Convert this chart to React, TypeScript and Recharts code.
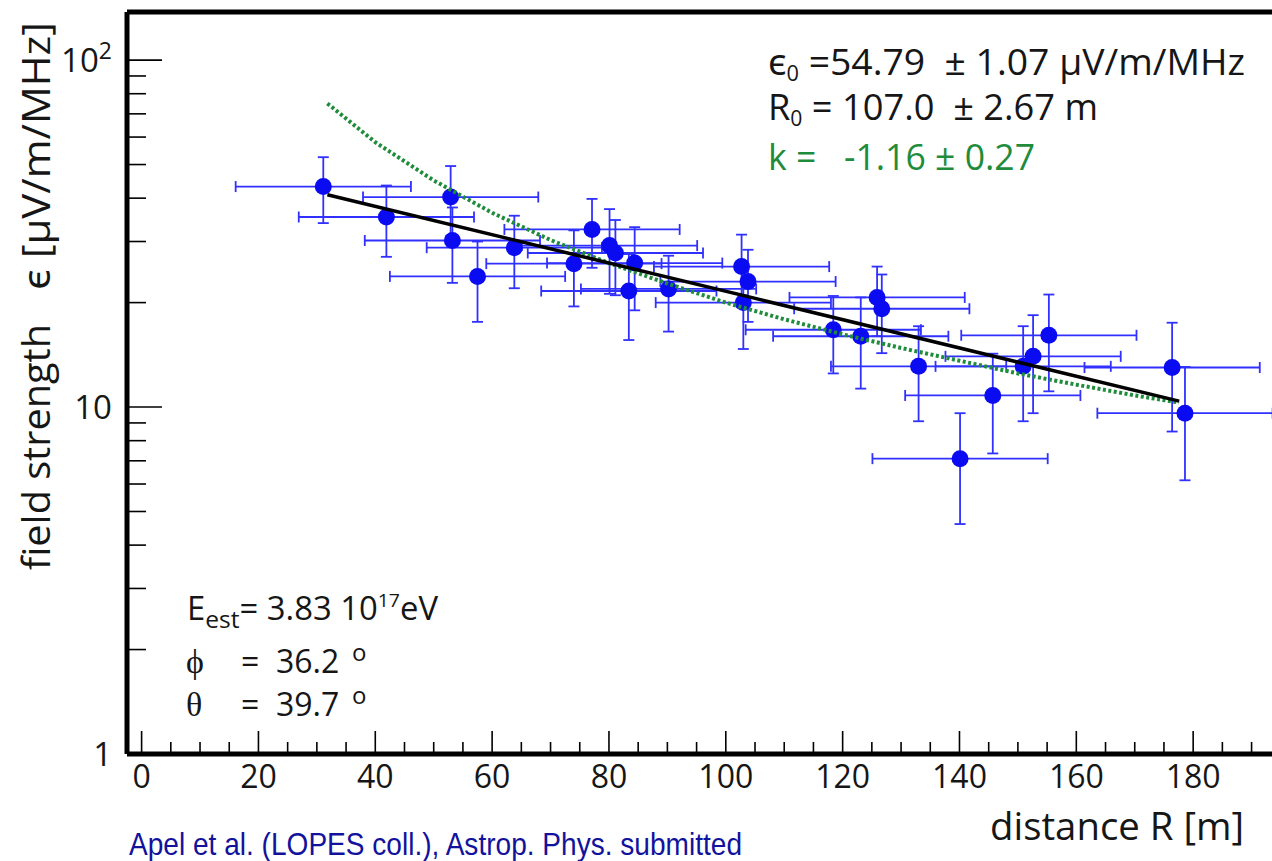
import { ScatterChart, Scatter, XAxis, YAxis, ErrorBar, ReferenceLine } from "recharts";

// measured points: distance R [m], field strength [µV/m/MHz] and their errors
const distance = [
  31.1, 41.9, 52.9, 53.2, 57.5, 63.8, 74.0, 77.1, 80.1, 81.1, 83.4, 84.4, 90.2,
  102.7, 103.8, 103.0, 118.4, 123.1, 125.9, 126.7, 133.0, 140.1, 145.7, 150.9,
  152.6, 155.3, 176.4, 178.6,
];
const fieldStrength = [
  43.2, 35.3, 40.3, 30.2, 23.8, 28.8, 25.9, 32.5, 29.2, 27.8, 21.6, 26.0, 21.9,
  25.4, 23.0, 20.0, 16.7, 16.0, 20.7, 19.2, 13.1, 7.1, 10.8, 13.1, 14.0, 16.1,
  13.0, 9.6,
];
const distanceErr = [
  15, 15, 15, 15, 15, 15, 15, 15, 15, 15, 15, 15, 15, 15, 15, 15, 15, 15, 15,
  15, 15, 15, 15, 15, 15, 15, 15, 15,
];
const fieldErr = [
  9.3, 8.2, 9.2, 7.4, 6.2, 6.8, 6.4, 7.3, 8.0, 6.8, 6.0, 7.0, 5.4, 6.0, 5.4,
  5.3, 4.2, 4.7, 4.7, 4.9, 4.0, 2.5, 3.45, 4.0, 4.4, 5.0, 4.5, 3.45,
];

// exponential fit (straight on the log axis) read at both ends
const expFitDistance = [31.8, 177.6];
const expFitField = [40.9, 10.4];

// power-law fit (green dotted)
const powFitDistance = [31.8, 40, 50, 60, 70, 80, 90, 100, 110, 120, 130, 140, 150, 160, 170, 177.6];
const powFitField = [75, 58, 45, 36.3, 30.3, 26.0, 22.7, 20.0, 17.9, 16.2, 14.8, 13.6, 12.5, 11.6, 10.8, 10.3];

const xTicks = [
  0, 5, 10, 15, 20, 25, 30, 35, 40, 45, 50, 55, 60, 65, 70, 75, 80, 85, 90, 95,
  100, 105, 110, 115, 120, 125, 130, 135, 140, 145, 150, 155, 160, 165, 170,
  175, 180, 185, 190, 195,
];
const yTicks = [1, 2, 3, 4, 5, 6, 7, 8, 9, 10, 20, 30, 40, 50, 60, 70, 80, 90, 100];

const X_DOMAIN: [number, number] = [-2.5, 200];
const Y_DOMAIN: [number, number] = [1, 137.6];

const points = distance.map((r, i) => ({
  r,
  e: fieldStrength[i],
  dr: distanceErr[i],
  de: fieldErr[i],
}));
const expFit = expFitDistance.map((r, i) => ({ r, e: expFitField[i] }));
const powFit = powFitDistance.map((r, i) => ({ r, e: powFitField[i] }));

const SANS = "'Open Sans', 'Noto Sans', sans-serif";
const SERIF = "'Liberation Serif', 'DejaVu Serif', serif";
const INK = "#161616";
const BLUE = "#0b0bf2";
const BAR = "#3030ff";
const GREEN = "#1f8c3c";

function XTick(props: any) {
  const { x, y, payload } = props;
  const v = payload.value as number;
  const major = v % 20 === 0;
  return (
    <g>
      <line x1={x} x2={x} y1={y} y2={y - (major ? 23 : 12)} stroke="#000" strokeWidth={1.6} />
      {major && (
        <text x={x} y={y + 34} textAnchor="middle" fontFamily={SANS} fontSize={32} fill={INK}>
          {v}
        </text>
      )}
    </g>
  );
}

function YTick(props: any) {
  const { x, y, payload } = props;
  const v = payload.value as number;
  const major = v === 1 || v === 10 || v === 100;
  return (
    <g>
      {v !== 1 && (
        <line x1={x} x2={x + (major ? 35 : 19)} y1={y} y2={y} stroke="#000" strokeWidth={1.6} />
      )}
      {major && (
        <text x={x - 15} y={y + 12} textAnchor="end" fontFamily={SANS} fontSize={33} fill={INK}>
          {v === 100 ? (
            <>
              10<tspan dy={-13} fontSize={23}>2</tspan>
            </>
          ) : (
            v
          )}
        </text>
      )}
    </g>
  );
}

const Dot = (props: any) => <circle cx={props.cx} cy={props.cy} r={8.5} fill={BLUE} />;
const NoDot = () => <g />;

export default function App() {
  return (
    <div
      style={{
        position: "fixed",
        left: 0,
        top: 0,
        width: 1272,
        height: 861,
        overflow: "hidden",
        background: "#fff",
      }}
    >
      <ScatterChart width={1320} height={861} margin={{ top: 12, right: 10, bottom: 77, left: 0 }}>
        <XAxis
          type="number"
          dataKey="r"
          domain={X_DOMAIN}
          allowDataOverflow
          ticks={xTicks}
          interval={0}
          tick={(p: any) => <XTick {...p} />}
          tickLine={false}
          tickSize={0}
          tickMargin={0}
          height={30}
          axisLine={{ stroke: "#000", strokeWidth: 5 }}
        />
        <YAxis
          type="number"
          dataKey="e"
          scale="log"
          domain={Y_DOMAIN}
          allowDataOverflow
          ticks={yTicks}
          interval={0}
          tick={(p: any) => <YTick {...p} />}
          tickLine={false}
          tickSize={0}
          tickMargin={0}
          width={127}
          axisLine={{ stroke: "#000", strokeWidth: 5 }}
        />
        {/* top edge of the frame */}
        <ReferenceLine y={Y_DOMAIN[1]} stroke="#000" strokeWidth={5} ifOverflow="visible" />

        <Scatter data={points} shape={Dot} isAnimationActive={false}>
          <ErrorBar dataKey="dr" direction="x" width={5.5} stroke={BAR} strokeWidth={1.8} isAnimationActive={false} />
          <ErrorBar dataKey="de" direction="y" width={5.5} stroke={BAR} strokeWidth={1.8} isAnimationActive={false} />
        </Scatter>

        {/* fits */}
        <Scatter
          data={powFit}
          shape={NoDot}
          line={{ stroke: GREEN, strokeWidth: 4, strokeDasharray: "3 2.5" }}
          isAnimationActive={false}
        />
        <Scatter
          data={expFit}
          shape={NoDot}
          line={{ stroke: "#000", strokeWidth: 3.5 }}
          isAnimationActive={false}
        />
      </ScatterChart>

      <svg
        width={1272}
        height={861}
        style={{ position: "absolute", left: 0, top: 0, pointerEvents: "none", whiteSpace: "pre" }}
      >
        <g fontFamily={SANS} fill={INK} xmlSpace="preserve">
          {/* axis titles */}
          <text x={50} y={570} fontSize={38} transform="rotate(-90 50 570)" textLength={246} lengthAdjust="spacingAndGlyphs">
            field strength
          </text>
          <text x={50} y={290} fontSize={38} transform="rotate(-90 50 290)" textLength={268} lengthAdjust="spacingAndGlyphs">
            ϵ [µV/m/MHz]
          </text>
          <text x={990} y={840} fontSize={38} textLength={254} lengthAdjust="spacingAndGlyphs">
            distance R [m]
          </text>

          {/* fit results */}
          <text x={768} y={75} fontSize={36} textLength={477} lengthAdjust="spacingAndGlyphs" xmlSpace="preserve">
            ϵ<tspan fontSize={21} dy={6}>0</tspan>
            <tspan dy={-6}>{" =54.79  ± 1.07 µV/m/MHz"}</tspan>
          </text>
          <text x={768} y={120} fontSize={36} textLength={330} lengthAdjust="spacingAndGlyphs" xmlSpace="preserve">
            R<tspan fontSize={21} dy={6}>0</tspan>
            <tspan dy={-6}>{" = 107.0  ± 2.67 m"}</tspan>
          </text>
          <text x={768} y={170} fontSize={36} fill={GREEN} textLength={267} lengthAdjust="spacingAndGlyphs" xmlSpace="preserve">
            {"k =   -1.16 ± 0.27"}
          </text>

          {/* shower parameters */}
          <text x={187} y={620} fontSize={32} textLength={251} lengthAdjust="spacingAndGlyphs" xmlSpace="preserve">
            E<tspan fontSize={24} dy={8}>est</tspan>
            <tspan dy={-8}>{"= 3.83 10"}</tspan>
            <tspan fontSize={19} dy={-13}>17</tspan>
            <tspan dy={13}>eV</tspan>
          </text>
          <text x={186} y={673} fontSize={34} fontFamily={SERIF}>ϕ</text>
          <text x={241} y={673} fontSize={32} xmlSpace="preserve">{"=  36.2"}</text>
          <text x={352} y={661} fontSize={24}>o</text>
          <text x={186} y={716} fontSize={34} fontFamily={SERIF}>θ</text>
          <text x={241} y={716} fontSize={32} xmlSpace="preserve">{"=  39.7"}</text>
          <text x={352} y={704} fontSize={24}>o</text>
        </g>
        <text
          x={129}
          y={855}
          fontFamily="'Liberation Sans', Arial, sans-serif"
          fontSize={32}
          fill="#12129c"
          textLength={613}
          lengthAdjust="spacingAndGlyphs"
        >
          Apel et al. (LOPES coll.), Astrop. Phys. submitted
        </text>
      </svg>
    </div>
  );
}
